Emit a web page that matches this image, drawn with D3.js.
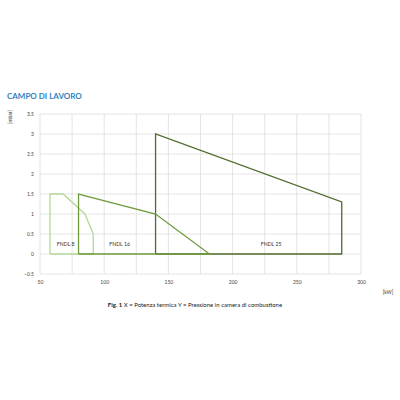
<!DOCTYPE html>
<html><head><meta charset="utf-8">
<script src="https://cdn.jsdelivr.net/npm/d3@7"></script>
<style>body{margin:0;background:#fff}</style></head>
<body><div id="chart"></div>
<script>
const xTicks = [50, 100, 150, 200, 250, 300]
const yTicks = [-0.5, 0, 0.5, 1, 1.5, 2, 2.5, 3, 3.5]
const fndl8 = [[57.8, 0], [57.8, 1.5], [68, 1.5], [85, 1], [91.5, 0.5], [91.5, 0], [57.8, 0]]
const fndl16 = [[80, 0], [80, 1.5], [140, 1], [182, 0], [80, 0]]
const fndl25 = [[140, 0], [140, 3], [285, 1.3], [285, 0], [140, 0]]
const labels = [["FNDL 8", 70, 0.2], ["FNDL 16", 112, 0.2], ["FNDL 25", 230, 0.2]]

const svg = d3.select("#chart").append("svg").attr("width", 400).attr("height", 400)
  .style("font-family", "Lato, sans-serif")
const x = d3.scaleLinear().domain([50, 300]).range([40, 361])
const y = d3.scaleLinear().domain([-0.5, 3.5]).range([274, 114])

svg.append("text").attr("x", 7).attr("y", 99).attr("fill", "#2f7fc1")
  .attr("font-size", 8).attr("font-weight", "bold").text("CAMPO DI LAVORO")

// grid
svg.append("g").selectAll("line").data(d3.range(50, 301, 25)).join("line")
  .attr("x1", d => x(d)).attr("x2", d => x(d)).attr("y1", y(3.5)).attr("y2", y(-0.5))
  .attr("stroke", "#ddd").attr("stroke-width", 0.8)
svg.append("g").selectAll("line").data(yTicks).join("line")
  .attr("x1", x(50)).attr("x2", x(300)).attr("y1", d => y(d)).attr("y2", d => y(d))
  .attr("stroke", "#ddd").attr("stroke-width", 0.8)

const xAxis = svg.append("g").attr("transform", `translate(0,${y(-0.5)})`)
  .call(d3.axisBottom(x).tickValues(xTicks).tickSize(0).tickPadding(6))
const yAxis = svg.append("g").attr("transform", `translate(${x(50)},0)`)
  .call(d3.axisLeft(y).tickValues(yTicks).tickSize(0).tickPadding(6).tickFormat(d3.format("")))
;[xAxis, yAxis].forEach(a => {
  a.select(".domain").remove()
  a.selectAll("text").attr("font-size", 5).attr("fill", "#444").style("font-family", "Lato, sans-serif")
})

const line = d3.line().x(d => x(d[0])).y(d => y(d[1]))
svg.append("path").datum(fndl8).attr("d", line).attr("fill", "none").attr("stroke", "#b5d89a").attr("stroke-width", 1.3)
svg.append("path").datum(fndl25).attr("d", line).attr("fill", "none").attr("stroke", "#4f6b2a").attr("stroke-width", 1.3)
svg.append("path").datum(fndl16).attr("d", line).attr("fill", "none").attr("stroke", "#6f9a3c").attr("stroke-width", 1.3)

svg.append("g").selectAll("text").data(labels).join("text")
  .attr("x", d => x(d[1])).attr("y", d => y(d[2])).attr("text-anchor", "middle")
  .attr("font-size", 5.2).attr("fill", "#333").text(d => d[0])

svg.append("text").attr("transform", "translate(12,117) rotate(-90)").attr("text-anchor", "middle")
  .attr("font-size", 5).attr("fill", "#333").text("[mbar]")
svg.append("text").attr("x", 388).attr("y", 294).attr("text-anchor", "middle")
  .attr("font-size", 5).attr("fill", "#333").text("[kW]")
const cap = svg.append("text").attr("x", 195).attr("y", 307).attr("text-anchor", "middle")
  .attr("font-size", 6).attr("fill", "#222")
cap.append("tspan").attr("font-weight", "bold").text("Fig. 1 ")
cap.append("tspan").text(" X = Potenza termica Y = Pressione in camera di combustione")
</script></body></html>
